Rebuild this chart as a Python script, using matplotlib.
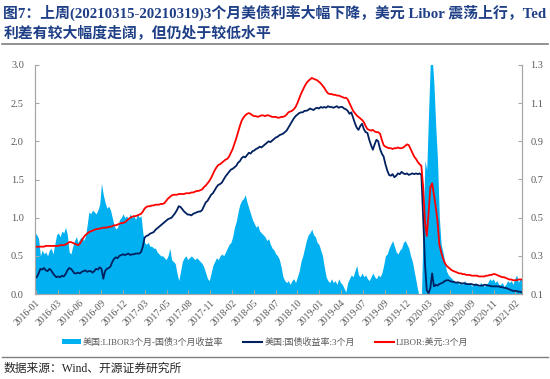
import matplotlib
matplotlib.use("Agg")
import matplotlib.pyplot as plt
import numpy as np
from matplotlib.patches import Patch
from matplotlib.lines import Line2D

plt.rcParams["font.family"] = ["Liberation Serif", "Noto Sans CJK SC"]

# weekly samples, 2016-01 .. 2021-03-19
TICK_LABELS = ["2016-01", "2016-03", "2016-06", "2016-09", "2016-12", "2017-03", "2017-05",
               "2017-08", "2017-11", "2018-02", "2018-05", "2018-07", "2018-10", "2019-01",
               "2019-04", "2019-07", "2019-09", "2019-12", "2020-03", "2020-06", "2020-09",
               "2020-11", "2021-02"]

LIBOR_3M = [
    0.61, 0.62, 0.62, 0.62, 0.62, 0.62, 0.63, 0.63, 0.63, 0.63, 0.63, 0.63, 0.63,
    0.63, 0.64, 0.64, 0.64, 0.65, 0.66, 0.68, 0.68, 0.67,
    0.66, 0.65, 0.64, 0.66, 0.70, 0.74, 0.77, 0.79, 0.81, 0.82,
    0.83, 0.84, 0.85, 0.85, 0.86, 0.86, 0.87, 0.87, 0.87, 0.88, 0.88, 0.89, 0.90,
    0.90, 0.91, 0.92, 0.93, 0.93, 0.94, 0.96, 0.98, 1.00, 1.01, 1.02, 1.02, 1.03, 1.04, 1.05,
    1.08, 1.12, 1.14, 1.15, 1.15, 1.16, 1.16, 1.17, 1.17, 1.17, 1.18, 1.18,
    1.19, 1.22, 1.25, 1.27, 1.29, 1.30,
    1.30, 1.30, 1.31, 1.31, 1.31, 1.31, 1.32, 1.32, 1.32, 1.33,
    1.33, 1.34, 1.35, 1.35, 1.36, 1.37, 1.40, 1.42, 1.45, 1.48, 1.52, 1.57, 1.62, 1.66,
    1.69, 1.70, 1.72, 1.74, 1.76, 1.77, 1.80, 1.85, 1.90, 1.97,
    2.04, 2.12, 2.20, 2.27, 2.31, 2.34, 2.36, 2.37, 2.36, 2.34,
    2.33, 2.33, 2.32, 2.33, 2.34, 2.34, 2.33, 2.34, 2.34, 2.33, 2.32, 2.32, 2.32, 2.31, 2.31,
    2.32, 2.32, 2.33, 2.35,
    2.38, 2.39, 2.40, 2.42, 2.45, 2.50, 2.56, 2.62, 2.67, 2.72,
    2.76, 2.79, 2.81, 2.83, 2.82, 2.81, 2.80, 2.78, 2.76, 2.73,
    2.70, 2.66, 2.63, 2.62, 2.62, 2.61, 2.61, 2.60, 2.60, 2.59,
    2.58, 2.57, 2.57, 2.55, 2.50, 2.45, 2.40, 2.37, 2.34, 2.32,
    2.30, 2.28, 2.25, 2.20, 2.16, 2.15, 2.14, 2.15, 2.13, 2.12,
    2.12, 2.10, 2.02, 1.95, 1.93, 1.92, 1.91, 1.91, 1.90, 1.91,
    1.91, 1.92, 1.91, 1.91, 1.92, 1.94, 1.96, 1.95, 1.90,
    1.85, 1.80, 1.77, 1.73, 1.70,
    1.68, 1.40, 0.95, 0.76, 1.05, 1.40, 1.45, 1.30, 1.14, 0.95, 0.65, 0.55, 0.47, 0.41,
    0.37, 0.35, 0.33, 0.31,
    0.30, 0.29, 0.28, 0.27, 0.27, 0.26, 0.26, 0.25, 0.25, 0.25, 0.24, 0.24, 0.24,
    0.24, 0.23, 0.23, 0.23, 0.23, 0.24, 0.24, 0.25, 0.25, 0.26, 0.26, 0.25, 0.24,
    0.23, 0.22, 0.22, 0.21, 0.20, 0.19, 0.19, 0.18, 0.18, 0.18, 0.19, 0.19, 0.19,
]

UST_3M = [
    0.21, 0.22, 0.27, 0.33, 0.32, 0.34, 0.31, 0.30, 0.33, 0.31, 0.27, 0.24, 0.22,
    0.23, 0.22, 0.24, 0.23, 0.26, 0.31, 0.34, 0.33, 0.30,
    0.27, 0.27, 0.28, 0.27, 0.29, 0.30, 0.31, 0.29, 0.30, 0.30,
    0.28, 0.30, 0.33, 0.32, 0.35, 0.33, 0.20, 0.30, 0.33, 0.34, 0.36, 0.42, 0.46,
    0.48, 0.47, 0.50, 0.51, 0.52, 0.51, 0.52, 0.53, 0.51, 0.52, 0.52, 0.53, 0.53, 0.53, 0.55,
    0.62, 0.74, 0.76, 0.77, 0.79, 0.80, 0.81, 0.84, 0.86, 0.88, 0.90, 0.92,
    0.94, 0.96, 0.98, 0.99, 1.00, 1.03,
    1.06, 1.10, 1.15, 1.14, 1.11, 1.08, 1.06, 1.04, 1.04, 1.03,
    1.05, 1.06, 1.07, 1.08, 1.08, 1.10, 1.15, 1.20, 1.22, 1.26, 1.30, 1.32, 1.36, 1.40,
    1.43, 1.44, 1.46, 1.50, 1.54, 1.57, 1.60, 1.63, 1.64, 1.66,
    1.68, 1.72, 1.74, 1.78, 1.80, 1.79, 1.82, 1.85, 1.84, 1.87,
    1.88, 1.90, 1.91, 1.93, 1.92, 1.94, 1.96, 1.98, 2.00, 1.99, 2.01, 2.03, 2.05, 2.06, 2.08,
    2.09, 2.10, 2.12, 2.14,
    2.18, 2.22, 2.26, 2.30, 2.33, 2.35, 2.37, 2.38, 2.38, 2.40,
    2.40, 2.41, 2.43, 2.42, 2.41, 2.43, 2.44, 2.43, 2.45, 2.44,
    2.45, 2.44, 2.46, 2.45, 2.45, 2.44, 2.45, 2.46, 2.44, 2.45,
    2.45, 2.43, 2.42, 2.40, 2.36, 2.38, 2.31, 2.24, 2.18, 2.15,
    2.20, 2.23, 2.16, 2.12, 2.11, 2.02, 1.95, 1.89, 1.96, 2.02,
    2.00, 1.90, 1.84, 1.80, 1.70, 1.62, 1.56, 1.55, 1.57, 1.53,
    1.55, 1.58, 1.57, 1.60, 1.58, 1.57, 1.58, 1.56, 1.57,
    1.58, 1.57, 1.58, 1.57, 1.58,
    1.56, 1.00, 0.40, 0.05, 0.01, 0.08, 0.27, 0.10, 0.12, 0.11, 0.13, 0.14, 0.15, 0.17,
    0.18, 0.18, 0.17, 0.16,
    0.16, 0.15, 0.15, 0.15, 0.14, 0.14, 0.14, 0.13, 0.13, 0.13, 0.13, 0.12, 0.12,
    0.12, 0.11, 0.11, 0.11, 0.12, 0.12, 0.11, 0.11, 0.10, 0.10, 0.10, 0.10, 0.10,
    0.09, 0.09, 0.08, 0.08, 0.07, 0.06, 0.05, 0.04, 0.04, 0.04, 0.03, 0.03, 0.02,
]

SPREAD = [
    0.42, 0.41, 0.39, 0.30, 0.33, 0.31, 0.32, 0.30, 0.33, 0.34, 0.31, 0.36, 0.41,
    0.42, 0.40, 0.43, 0.42, 0.45, 0.41, 0.32, 0.31, 0.35,
    0.38, 0.40, 0.37, 0.39, 0.40, 0.38, 0.40, 0.46, 0.53, 0.52,
    0.54, 0.53, 0.52, 0.54, 0.57, 0.68, 0.62, 0.58, 0.55, 0.56, 0.54, 0.50, 0.46,
    0.44, 0.45, 0.49, 0.50, 0.52, 0.50, 0.51, 0.49, 0.52, 0.50, 0.51, 0.49, 0.52, 0.50, 0.51,
    0.42, 0.37, 0.36, 0.37, 0.35, 0.35, 0.34, 0.34, 0.32, 0.31, 0.30, 0.30,
    0.29, 0.28, 0.30, 0.34, 0.28, 0.27,
    0.26, 0.21, 0.17, 0.22, 0.27, 0.29, 0.30, 0.28, 0.29, 0.30,
    0.29, 0.28, 0.29, 0.28, 0.27, 0.26, 0.24, 0.21, 0.18, 0.17, 0.21, 0.25, 0.27, 0.29,
    0.28, 0.30, 0.31, 0.30, 0.32, 0.34, 0.36, 0.37, 0.40, 0.45,
    0.48, 0.53, 0.57, 0.59, 0.60, 0.62, 0.58, 0.55, 0.52, 0.49,
    0.47, 0.45, 0.46, 0.43, 0.42, 0.41, 0.40, 0.38, 0.39, 0.36, 0.34, 0.33, 0.31, 0.30, 0.28,
    0.24, 0.19, 0.17, 0.16,
    0.17, 0.15, 0.17, 0.18, 0.16, 0.19, 0.22, 0.27, 0.30, 0.34,
    0.38, 0.41, 0.42, 0.44, 0.41, 0.40, 0.37, 0.36, 0.33, 0.30,
    0.24, 0.19, 0.17, 0.16, 0.18, 0.16, 0.17, 0.15, 0.18, 0.16,
    0.15, 0.13, 0.11, 0.16, 0.18, 0.20, 0.19, 0.22, 0.25, 0.20,
    0.19, 0.21, 0.19, 0.20, 0.18, 0.17, 0.19, 0.21, 0.19, 0.18,
    0.20, 0.19, 0.21, 0.25, 0.30, 0.31, 0.34, 0.36, 0.38, 0.35,
    0.32, 0.31, 0.33, 0.34, 0.37, 0.38, 0.36, 0.34, 0.30,
    0.27, 0.22, 0.17, 0.12, 0.08,
    0.08, 0.45, 0.80, 0.75, 1.05, 1.32, 1.34, 1.20, 0.98, 0.80, 0.50, 0.36, 0.32, 0.27,
    0.22, 0.20, 0.19, 0.18,
    0.17, 0.16, 0.17, 0.15, 0.16, 0.15, 0.17, 0.16, 0.15, 0.16, 0.14, 0.15, 0.16,
    0.15, 0.14, 0.16, 0.15, 0.14, 0.15, 0.16, 0.18, 0.17, 0.18, 0.16, 0.17, 0.15,
    0.15, 0.16, 0.14, 0.15, 0.17, 0.16, 0.17, 0.15, 0.18, 0.20, 0.16, 0.18, 0.17,
]

C_FILL, C_UST, C_LIBOR = "#00B0F0", "#002060", "#FF0000"
GRAY_TXT, SPINE = "#595959", "#A6A6A6"
TITLE_C = "#1F3F86"

weeks = np.arange(len(LIBOR_3M))
fig = plt.figure(figsize=(5.5, 3.79), dpi=100)

# spread on the base axes (right scale), rates on the twin (left scale) so lines sit on top
ax = fig.add_axes([35 / 550, 1 - 294 / 379, 487 / 550, 229 / 379])
ax.fill_between(np.arange(len(SPREAD)), 0, SPREAD, color=C_FILL, lw=0)
ax.set_ylim(0.1, 1.3)
ax.set_yticks([0.1, 0.3, 0.5, 0.7, 0.9, 1.1, 1.3])
ax.set_xlim(0, len(weeks) - 1)
ax2 = ax.twinx()
ax2.plot(np.arange(len(UST_3M)), UST_3M, color=C_UST, lw=1.3)
ax2.plot(weeks, LIBOR_3M, color=C_LIBOR, lw=1.3)
ax2.set_ylim(0, 3.0)
ax2.set_yticks(np.arange(0, 3.01, 0.5))

ax.yaxis.tick_right()
ax2.yaxis.tick_left()
for a in (ax, ax2):
    for s in a.spines.values():
        s.set_color(SPINE)
    a.spines["top"].set_visible(False)
ax.yaxis.set_major_formatter(matplotlib.ticker.FormatStrFormatter("%.1f"))
ax2.yaxis.set_major_formatter(matplotlib.ticker.FormatStrFormatter("%.1f"))
ax.tick_params(axis="y", direction="in", length=3, color=SPINE, labelsize=7.5,
               labelcolor=GRAY_TXT, pad=6)
ax2.tick_params(axis="y", direction="in", length=3, color=SPINE, labelsize=7.5,
                labelcolor=GRAY_TXT, pad=8)

xt = 0.5 + np.arange(len(TICK_LABELS)) * 12.13
ax.set_xticks(xt)
ax.set_xticklabels(TICK_LABELS, rotation=45, ha="right", rotation_mode="anchor")
ax.tick_params(axis="x", direction="in", length=3, color=SPINE, labelsize=7,
               labelcolor=GRAY_TXT, pad=3)

handles = [Patch(facecolor=C_FILL, edgecolor="none"),
           Line2D([], [], color=C_UST, lw=1.5),
           Line2D([], [], color=C_LIBOR, lw=1.5)]
labels = ["美国:LIBOR3个月-国债3个月收益率", "美国:国债收益率:3个月", "LIBOR:美元:3个月"]
leg = fig.legend(handles, labels, loc="center", bbox_to_anchor=(0.482, 1 - 342 / 379), ncol=3,
                 frameon=False, fontsize=6.5, handlelength=2.1, handleheight=0.5,
                 handletextpad=0.2, columnspacing=2.2)
for t in leg.get_texts():
    t.set_color(GRAY_TXT)

fig.text(0.006, 1 - 13 / 379, "图7：上周(20210315-20210319)3个月美债利率大幅下降，美元 Libor 震荡上行，Ted",
         fontsize=10.7, fontweight="bold", color=TITLE_C, va="center", ha="left")
fig.text(0.006, 1 - 33 / 379, "利差有较大幅度走阔，但仍处于较低水平",
         fontsize=10.7, fontweight="bold", color=TITLE_C, va="center", ha="left")
fig.add_artist(Line2D([0.004, 0.996], [1 - 44 / 379] * 2, color="#7F7F7F", lw=1.2))
fig.add_artist(Line2D([0.004, 0.996], [1 - 357 / 379] * 2, color="#7F7F7F", lw=1.0))
fig.text(0.006, 1 - 369 / 379, "数据来源：Wind、开源证券研究所", fontsize=8.5, color="#262626",
         va="center", ha="left")

fig.savefig("out.png", dpi=100, facecolor="white")
